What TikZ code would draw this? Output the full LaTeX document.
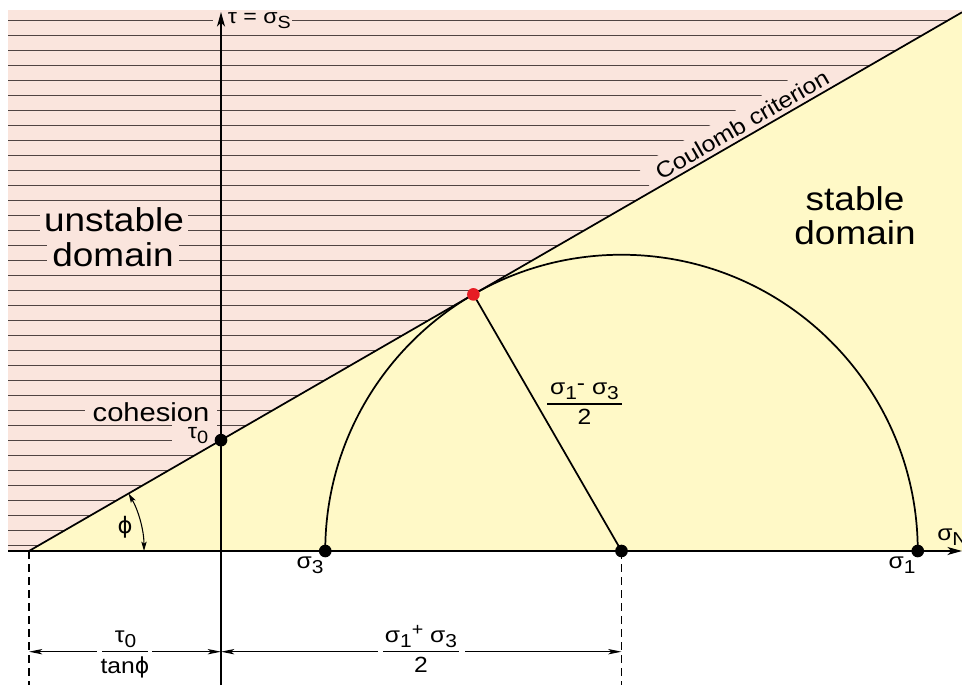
\documentclass[tikz,border=0pt]{standalone}
\usepackage{fontspec}
\setmainfont[FakeStretch=1.12]{Liberation Sans}
\newfontfamily\dvs[FakeStretch=1.0]{DejaVu Sans}
\usetikzlibrary{arrows.meta}
\definecolor{pinkbg}{RGB}{250,229,221}
\definecolor{yellowbg}{RGB}{255,249,199}
\definecolor{hatchcol}{RGB}{80,68,66}
\definecolor{reddot}{RGB}{230,28,36}
\newcommand\lsub[1]{\raisebox{-0.45ex}{\scalebox{0.85}{#1}}}
\newcommand\fs[1]{\fontsize{#1}{1.2\dimexpr#1\relax}\selectfont}
\newcommand\phisym{{\dvs ϕ}}
\begin{document}
\begin{tikzpicture}[x=0.75pt,y=0.75pt,
  mainline/.style={line width=1.3pt},
  hatchline/.style={draw=hatchcol,line width=0.95pt},
  padlbl/.style={fill=pinkbg,inner ysep=1pt},
  dot/.style={circle,fill=black,inner sep=0pt,minimum size=9.5pt},
  axtip/.style={-{Stealth[length=11pt,width=6pt,inset=3pt]}},
  dimline/.style={line width=0.8pt},
  dashline/.style={line width=0.8pt,dash pattern=on 6pt off 3.75pt},
  fracbar/.style={line width=1.1pt},
  txt/.style={inner sep=0pt}
]
\useasboundingbox (0,0) rectangle (962,685);
% key points
\coordinate (O) at (29,134);
\coordinate (TR) at (962,672.7);
\coordinate (C) at (621.5,134);
\coordinate (S3) at (325.25,134);
\coordinate (S1) at (917.75,134);
\coordinate (T) at (473.4,390.6);
\coordinate (T0) at (221,244.85);
\coordinate (Hl) at (8,134);
\coordinate (Hr) at (962,134);
\coordinate (Vb) at (221,0);
\coordinate (Vt) at (221,673);
\coordinate (Ob) at (29,0);
\coordinate (Cb) at (621.5,0);
\coordinate (PhiA) at (144,134);
% backgrounds
\fill[pinkbg] (8,134) rectangle (962,675);
\fill[yellowbg] (O) -- (TR) -- (962,134) -- cycle;
\begin{scope}
\clip (8,134) -- (O) -- (TR) -- (962,676) -- (8,676) -- cycle;
\foreach \k in {0,...,35}{\draw[hatchline] (8,{664.3-15*\k}) -- (962,{664.3-15*\k});}
\end{scope}
% pink halos behind labels on the hatching
\fill[pinkbg] (652.5,494) -- (638,518) -- (799,611) -- (855,611) -- cycle;
\fill[pinkbg] (172,241) rectangle (217,263);
% labels on hatching
\node[padlbl, font=\fs{24.75pt}, anchor=base, inner xsep=3pt] (unst) at (114,453) {unstable};
\node[padlbl, font=\fs{24.75pt}, anchor=base, inner xsep=4pt] (dom1) at (113,418) {domain};
\node[padlbl, font=\fs{19.5pt}, anchor=base, inner xsep=5.8pt] (coh) at (151,263) {cohesion};
\node[txt, font=\fs{15.75pt}] (tau0) at (198,249) {τ\lsub{0}};
\node[txt, rotate=30, font=\fs{16.75pt}] (coul) at (742,560.5) {Coulomb criterion};
\node[fill=pinkbg, anchor=base west, inner xsep=0pt, inner ysep=1.5pt, font=\fs{15.5pt}] (taxis) at (213,661) {\hspace*{11pt}τ = σ\lsub{S}\hspace*{1pt}};
% main lines
\draw[mainline] (O) -- (TR);
\draw[mainline, axtip] (Vb) -- (Vt);
\draw[mainline, axtip] (Hl) -- (Hr);
\draw[mainline] (S1) arc[start angle=0,end angle=180,radius=296.25];
\draw[mainline] (T) -- (C);
\draw[dimline, {Stealth[length=7pt,width=4pt,inset=1.5pt]}-{Stealth[length=7pt,width=4pt,inset=1.5pt]}] (PhiA) arc[start angle=0,end angle=30,radius=115];
\draw[dashline] (O) -- (Ob);
\draw[dashline] (C) -- (Cb);
% dimension arrows
\coordinate (dA0) at (29,33.3);
\coordinate (dA1) at (97,33.3);
\coordinate (dA2) at (152,33.3);
\coordinate (dA3) at (221,33.3);
\coordinate (dB1) at (378,33.3);
\coordinate (dB2) at (465,33.3);
\coordinate (dB3) at (621.5,33.3);
\draw[dimline, {Stealth[length=10pt,width=4pt,inset=2.5pt]}-] (dA0) -- (dA1);
\draw[dimline, -{Stealth[length=10pt,width=4pt,inset=2.5pt]}] (dA2) -- (dA3);
\draw[dimline, {Stealth[length=10pt,width=4pt,inset=2.5pt]}-] (dA3) -- (dB1);
\draw[dimline, -{Stealth[length=10pt,width=4pt,inset=2.5pt]}] (dB2) -- (dB3);
% fractions
\coordinate (fA1) at (102,33.3); \coordinate (fA2) at (148,33.3);
\draw[fracbar] (fA1) -- (fA2);
\node[txt, font=\fs{16.5pt}, anchor=south] (fAn) at (125.5,37) {τ\lsub{0}};
\node[txt, font=\fs{16.5pt}, anchor=north] (fAd) at (125,28.5) {tan\phisym};
\coordinate (fB1) at (383,33.3); \coordinate (fB2) at (459,33.3);
\draw[fracbar] (fB1) -- (fB2);
\node[txt, font=\fs{16.5pt}, anchor=south] (fBn) at (421,37) {σ\lsub{1}\raisebox{0.55ex}{\scalebox{0.8}{+}} σ\lsub{3}};
\node[txt, font=\fs{16.5pt}, anchor=north] (fBd) at (421,28.5) {2};
\coordinate (fC1) at (547,281); \coordinate (fC2) at (622,281);
\draw[fracbar] (fC1) -- (fC2);
\node[txt, font=\fs{16.5pt}, anchor=south] (fCn) at (584.5,285) {σ\lsub{1}\raisebox{0.3ex}{-} σ\lsub{3}};
\node[txt, font=\fs{16.5pt}, anchor=north] (fCd) at (584.5,276) {2};
% dots
\node[dot] (d0) at (T0) {};
\node[dot] (d3) at (S3) {};
\node[dot] (dc) at (C) {};
\node[dot] (d1) at (S1) {};
\node[dot, fill=reddot] (dT) at (T) {};
% other labels
\node[font=\fs{17pt}] (phi) at (125,158) {\phisym};
\node[font=\fs{16.5pt}] (s3) at (310,120) {σ\lsub{3}};
\node[font=\fs{16.5pt}] (s1) at (902,120) {σ\lsub{1}};
\node[font=\fs{16.5pt}, anchor=base west, inner sep=0pt] (sN) at (937,145) {σ\lsub{N}};
\node[font=\fs{24.75pt}, anchor=base] (st) at (855,474) {stable};
\node[font=\fs{24.75pt}, anchor=base] (dom2) at (855,440) {domain};
\end{tikzpicture}
\end{document}
